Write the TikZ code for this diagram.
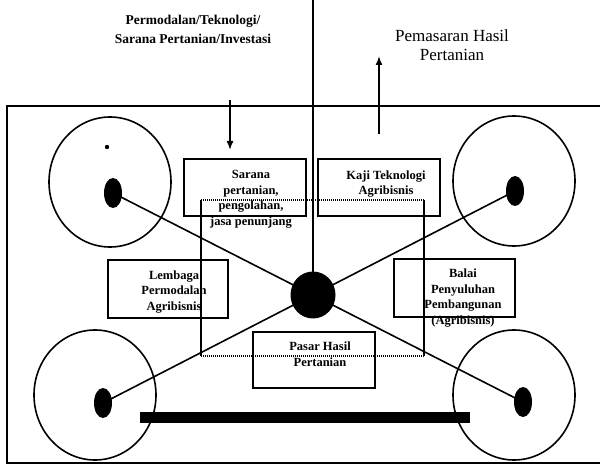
\documentclass[tikz,border=0pt]{standalone}
\usepackage{fontspec}
\setmainfont{Liberation Serif}
\usetikzlibrary{shapes.geometric,arrows.meta}
\tikzset{
  ring/.style={draw, ellipse, line width=1.6pt, minimum width=122pt, minimum height=130pt, inner sep=0pt},
  pin/.style={fill=black, ellipse, minimum width=18pt, minimum height=30pt, inner sep=0pt},
  hubdot/.style={fill=black, ellipse, minimum width=45pt, minimum height=47pt, inner sep=0pt},
  boxframe/.style={draw, line width=1.3pt, inner sep=0pt},
  boxtext/.style={align=center, inner sep=0pt, font=\bfseries\fontsize{12.5}{15.5}\selectfont},
  link/.style={line width=1.6pt},
  flow/.style={line width=1.6pt, -{Latex[length=9pt,width=7pt]}}
}
\begin{document}
\begin{tikzpicture}[x=1pt,y=-1pt]
\useasboundingbox (0,0) rectangle (600,465);
% frame (right side cut off)
\coordinate (fa) at (600,106);
\coordinate (fb) at (7,106);
\coordinate (fc) at (7,463);
\coordinate (fd) at (600,463);
\draw[line width=1.4pt] (fa) -- (fb) -- (fc) -- (fd);
% rings
\node[ring] (r1) at (110,182) {};
\node[ring] (r2) at (514,181) {};
\node[ring] (r3) at (95,395) {};
\node[ring] (r4) at (514,395) {};
\fill (107,147) circle (2.2pt);
% boxes
\node[boxframe, minimum width=122pt, minimum height=57pt] (bs) at (245,187.5) {};
\node[boxframe, minimum width=122pt, minimum height=57pt] (bk) at (379,187.5) {};
\node[boxframe, minimum width=120pt, minimum height=58pt] (bl) at (168,289) {};
\node[boxframe, minimum width=121pt, minimum height=58pt] (bb) at (454.5,288) {};
\node[boxframe, minimum width=122pt, minimum height=56pt] (bp) at (314,360) {};
% dotted rectangle
\coordinate (q1) at (201,200);
\coordinate (q2) at (424,200);
\coordinate (q3) at (424,356);
\coordinate (q4) at (201,356);
\draw[line width=1.2pt] (q1) -- (q4);
\draw[line width=1.2pt] (q2) -- (q3);
\draw[line width=1.4pt, dash pattern=on 1.2pt off 0.8pt] (q1) -- (q2);
\draw[line width=1.4pt, dash pattern=on 1.2pt off 0.8pt] (q4) -- (q3);
% hub and spokes
\node[hubdot] (hub) at (313,295) {};
\node[pin] (p1) at (113,193) {};
\node[pin] (p2) at (515,191) {};
\node[pin] (p3) at (103,403) {};
\node[pin] (p4) at (523,402) {};
\draw[link] (hub.center) -- (p1.center);
\draw[link] (hub.center) -- (p2.center);
\draw[link] (hub.center) -- (p3.center);
\draw[link] (hub.center) -- (p4.center);
\coordinate (vtop) at (313,0);
\draw[line width=1.4pt] (vtop) -- (hub.center);
% thick bar
\fill (140,412) rectangle (470,423);
% box texts
\node[boxtext] (ts) at (251,199) {Sarana\\pertanian,\\pengolahan,\\jasa penunjang};
\node[boxtext] (tk) at (386,184) {Kaji Teknologi\\Agribisnis};
\node[boxtext] (tl) at (174,292) {Lembaga\\Permodalan\\Agribisnis};
\node[boxtext] (tb) at (463,298) {Balai\\Penyuluhan\\Pembangunan\\(Agribisnis)};
\node[boxtext] (tp) at (320,354) {Pasar Hasil\\Pertanian};
% top texts and arrows
\node[align=center, inner sep=0pt, font=\bfseries\fontsize{13.5}{19}\selectfont] (tin) at (193,29) {Permodalan/Teknologi/\\Sarana Pertanian/Investasi};
\node[align=center, inner sep=0pt, font=\fontsize{17}{19}\selectfont] (tout) at (452,45) {Pemasaran Hasil\\Pertanian};
\coordinate (ain1) at (230,100);
\coordinate (ain2) at (230,150);
\draw[flow] (ain1) -- (ain2);
\coordinate (aout1) at (379,134);
\coordinate (aout2) at (379,56);
\draw[flow] (aout1) -- (aout2);
\end{tikzpicture}
\end{document}
